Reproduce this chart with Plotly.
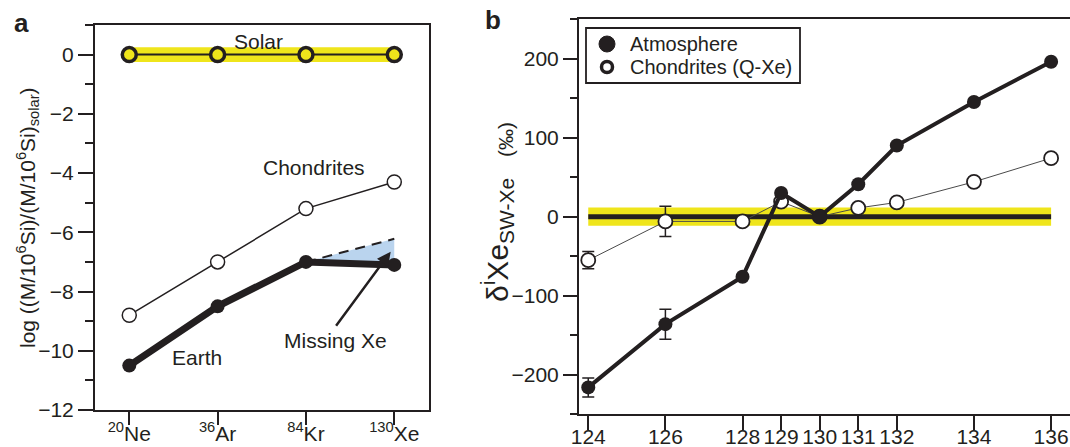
import plotly.graph_objects as go

# ---- panel a: noble-gas abundances relative to solar ----
elements = ["<sup>20</sup>Ne", "<sup>36</sup>Ar", "<sup>84</sup>Kr", "<sup>130</sup>Xe"]
solar_a = [0.0, 0.0, 0.0, 0.0]
solar_band_a = 0.25
chondrites_a = [-8.8, -7.0, -5.2, -4.3]
earth_a = [-10.5, -8.5, -7.0, -7.1]
expected_elements = ["<sup>84</sup>Kr", "<sup>130</sup>Xe"]
expected_xe = [-7.0, -6.22]

# ---- panel b: Xe isotope deviations from solar wind ----
masses = [124, 126, 128, 129, 130, 131, 132, 134, 136]
atmosphere = [-216, -136, -76, 30, 0, 41, 90, 145, 196]
atmosphere_err = [12, 19, 0, 0, 0, 0, 0, 0, 0]
chondrites_b = [-55, -6, -6, 19, 0, 11, 18, 44, 74]
chondrites_err = [11, 19, 0, 0, 0, 0, 0, 0, 0]
sw_band_b = 11.5
sw_line_b = [0, 0]
sw_range_b = [124, 136]

INK = "#231f20"
YELLOW = "#efe51b"
BLUE = "#bad4ee"
FONT = "Liberation Sans, Arial, Helvetica, sans-serif"
W, H = 1070, 447


def fx(p):
    return p / W


def fy(p):
    return 1 - p / H


fig = go.Figure()

# panel a
fig.add_trace(go.Scatter(x=elements, y=[v + solar_band_a for v in solar_a], mode="lines",
                         line=dict(width=0, color=YELLOW), xaxis="x", yaxis="y", hoverinfo="skip"))
fig.add_trace(go.Scatter(x=elements, y=[v - solar_band_a for v in solar_a], mode="lines",
                         line=dict(width=0, color=YELLOW), fill="tonexty", fillcolor=YELLOW,
                         xaxis="x", yaxis="y", hoverinfo="skip"))
fig.add_trace(go.Scatter(x=elements, y=solar_a, mode="lines+markers", name="Solar",
                         line=dict(color=INK, width=2),
                         marker=dict(size=14, color=YELLOW, line=dict(color=INK, width=3.5)),
                         xaxis="x", yaxis="y"))
fig.add_trace(go.Scatter(x=elements, y=chondrites_a, mode="lines+markers", name="Chondrites",
                         line=dict(color=INK, width=1.5),
                         marker=dict(size=14, color="white", line=dict(color=INK, width=1.5)),
                         xaxis="x", yaxis="y"))
fig.add_trace(go.Scatter(x=expected_elements, y=earth_a[2:], mode="lines",
                         line=dict(width=0, color=BLUE), xaxis="x", yaxis="y", hoverinfo="skip"))
fig.add_trace(go.Scatter(x=expected_elements, y=expected_xe, mode="lines",
                         line=dict(color=INK, width=2, dash="10px,7px"),
                         fill="tonexty", fillcolor=BLUE, xaxis="x", yaxis="y"))
fig.add_trace(go.Scatter(x=elements, y=earth_a, mode="lines+markers", name="Earth",
                         line=dict(color=INK, width=7),
                         marker=dict(size=14, color=INK),
                         xaxis="x", yaxis="y"))

# panel b
fig.add_trace(go.Scatter(x=sw_range_b, y=[sw_band_b, sw_band_b], mode="lines",
                         line=dict(width=0, color=YELLOW), xaxis="x2", yaxis="y2", hoverinfo="skip"))
fig.add_trace(go.Scatter(x=sw_range_b, y=[-sw_band_b, -sw_band_b], mode="lines",
                         line=dict(width=0, color=YELLOW), fill="tonexty", fillcolor=YELLOW,
                         xaxis="x2", yaxis="y2", hoverinfo="skip"))
fig.add_trace(go.Scatter(x=sw_range_b, y=sw_line_b, mode="lines",
                         line=dict(color=INK, width=5), xaxis="x2", yaxis="y2"))
fig.add_trace(go.Scatter(x=masses, y=chondrites_b, mode="lines+markers", name="Chondrites (Q-Xe)",
                         line=dict(color="#4a4a4a", width=1),
                         marker=dict(size=14, color="white", line=dict(color=INK, width=1.8)),
                         error_y=dict(type="data", array=chondrites_err, color=INK, thickness=1.5, width=6),
                         xaxis="x2", yaxis="y2"))
fig.add_trace(go.Scatter(x=masses, y=atmosphere, mode="lines+markers", name="Atmosphere",
                         line=dict(color=INK, width=4),
                         marker=dict(size=14, color=INK),
                         error_y=dict(type="data", array=atmosphere_err, color=INK, thickness=1.5, width=6),
                         xaxis="x2", yaxis="y2"))

axis_common = dict(showline=True, linewidth=2, linecolor=INK, ticks="outside", tickwidth=2,
                   tickcolor=INK, showgrid=False, zeroline=False, automargin=False,
                   tickfont=dict(family=FONT, size=21, color=INK))

fig.update_layout(
    template="none",
    width=W, height=H, margin=dict(l=0, r=0, t=0, b=0, autoexpand=False),
    paper_bgcolor="white", plot_bgcolor="white", showlegend=False,
    font=dict(family=FONT, color=INK),
    xaxis=dict(axis_common, domain=[fx(95), fx(429)], range=[-0.388, 3.393], type="category",
               ticklen=13, mirror=True, anchor="y", ticklabelstandoff=-9),
    yaxis=dict(axis_common, domain=[fy(410), fy(25)], range=[-12, 1], tick0=0, dtick=2,
               ticklen=15, mirror=True, anchor="x",
               minor=dict(dtick=1, tick0=0, ticklen=8, tickwidth=2, tickcolor=INK, ticks="outside")),
    xaxis2=dict(axis_common, domain=[fx(579), 1.0], range=[123.76, 136.49], tickvals=masses,
                ticklen=14, mirror=True, anchor="y2", ticklabelstandoff=-12),
    yaxis2=dict(axis_common, domain=[fy(414.3), fy(19)], range=[-250, 250], tick0=0, dtick=100,
                ticklen=14, anchor="x2",
                minor=dict(dtick=50, tick0=0, ticklen=7, tickwidth=2, tickcolor=INK, ticks="outside")),
)

ann = []


def label(text, x, y, size=20, xanchor="center", yanchor="middle", **kw):
    ann.append(dict(text=text, x=fx(x), y=fy(y), xref="paper", yref="paper", showarrow=False,
                    font=dict(family=FONT, size=size, color=INK), xanchor=xanchor,
                    yanchor=yanchor, **kw))


label("<b>a</b>", 21, 23, size=26)
label("<b>b</b>", 493, 20, size=26)
label("log ((M/10<sup>6</sup>Si)/(M/10<sup>6</sup>Si)<sub>solar</sub>)", 27, 218, size=21, textangle=-90)
label("δ<sup>i</sup>Xe<sub>SW-Xe</sub>", 497, 304, size=30, yanchor="bottom", textangle=-90)
label("(‰)", 505, 140, size=21, textangle=-90)
label("Solar", 258, 42, size=21)
label("Chondrites", 314, 167, size=21)
label("Earth", 197, 357, size=21)
label("Missing Xe", 335, 340, size=21)

# arrow pointing at the missing-Xe wedge
ann.append(dict(text="", x=fx(390.7), y=fy(251.7), xref="paper", yref="paper",
                ax=335 - 390.7, ay=327.3 - 251.7, showarrow=True, arrowhead=2, arrowsize=1.1,
                arrowwidth=2.5, arrowcolor=INK, standoff=0))

# legend for panel b
label("Atmosphere", 628, 44, size=20, xanchor="left")
label("Chondrites (Q-Xe)", 628, 67, size=20, xanchor="left")
fig.update_layout(annotations=ann)

shapes = [
    dict(type="rect", xref="paper", yref="paper", x0=fx(586), x1=fx(800), y0=fy(83), y1=fy(28),
         line=dict(color=INK, width=1.8), fillcolor="white", layer="above"),
    dict(type="circle", xref="paper", yref="paper", x0=fx(599), x1=fx(615), y0=fy(52), y1=fy(36),
         line=dict(color=INK, width=1), fillcolor=INK, layer="above"),
    dict(type="circle", xref="paper", yref="paper", x0=fx(601.5), x1=fx(612.5), y0=fy(72.5), y1=fy(61.5),
         line=dict(color=INK, width=3.5), fillcolor="white", layer="above"),
]
fig.update_layout(shapes=shapes)

fig.write_html("out.html")
